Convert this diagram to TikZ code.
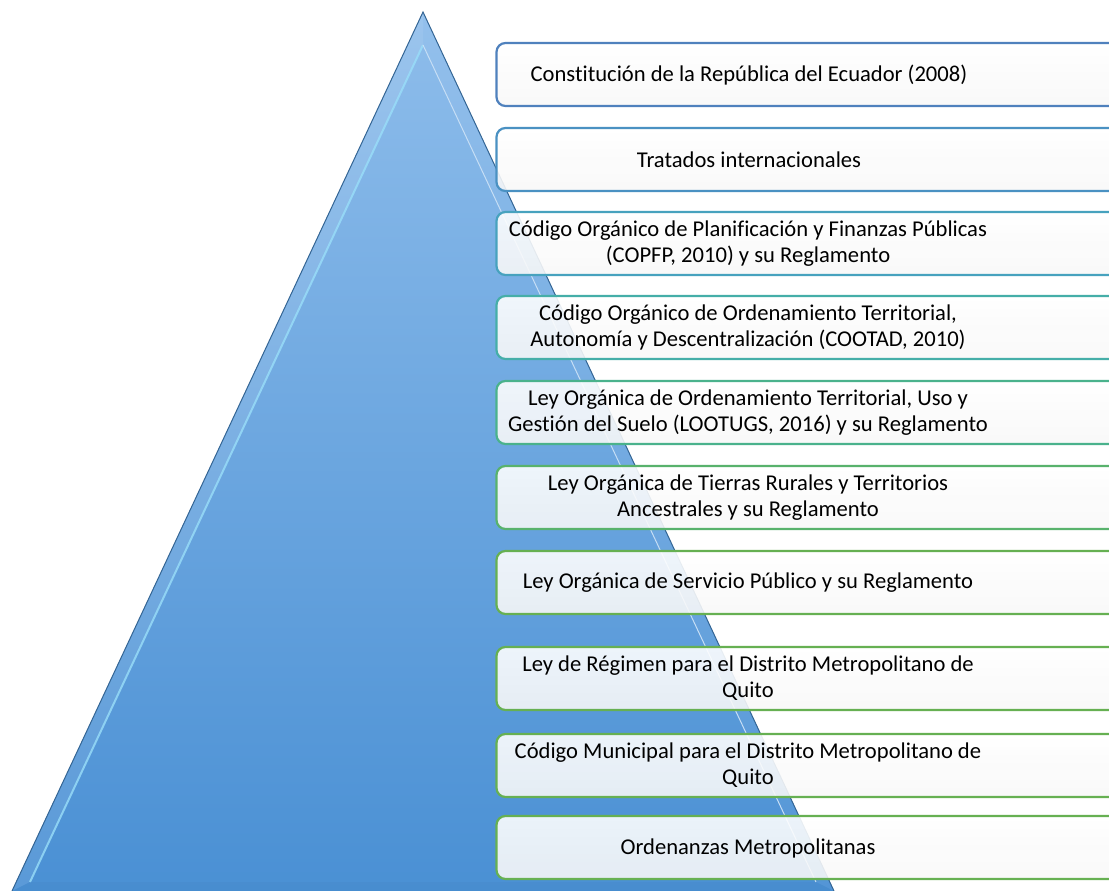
\documentclass[tikz,border=0pt]{standalone}
\usepackage{fontspec}
\setmainfont{Carlito}[Ligatures=NoCommon]
\begin{document}
\begin{tikzpicture}[x=1pt,y=-1pt,
  box/.style={draw=#1, line width=2.2pt, rounded corners=9pt,
    top color=white, bottom color=black!3, fill opacity=0.89,
    minimum width=626pt, minimum height=63pt, inner sep=0pt},
  lbl/.style={align=center, font=\fontsize{22.6}{26}\selectfont, text=black, inner sep=0pt}
]
\definecolor{c1}{HTML}{4F81BD}
\definecolor{c2}{HTML}{4A91C2}
\definecolor{c3}{HTML}{47A2BE}
\definecolor{c4}{HTML}{45AEA8}
\definecolor{c5}{HTML}{4AB28C}
\definecolor{c6}{HTML}{58B26C}
\definecolor{c7}{HTML}{66B052}
\definecolor{triTop}{HTML}{8EBDEB}
\definecolor{triBot}{HTML}{4A90D4}
\useasboundingbox (0,0) rectangle (1109,891);
\clip (0,0) rectangle (1109,891);
% triangle
\coordinate (A) at (423,12);
\coordinate (BL) at (12,891);
\coordinate (BR) at (834,891);
\coordinate (IA) at (423,45);
\coordinate (IL) at (30,882);
\coordinate (IR) at (816,882);
\shade[top color=triTop, bottom color=triBot] (A) -- (BL) -- (BR) -- cycle;
\shade[top color=triTop!80!white, bottom color=triBot!85!white, opacity=0.6] (A) -- (BL) -- (IL) -- (IA) -- cycle;
\shade[top color=triTop!90!white, bottom color=triBot!90!white, opacity=0.5] (A) -- (IA) -- (IR) -- (BR) -- cycle;
\fill[triBot!95!black, opacity=0.4] (IL) -- (IR) -- (BR) -- (BL) -- cycle;
\draw[line width=2pt, white!60!cyan, opacity=0.8] (IA) -- (IL);
\draw[line width=1pt, white!50!triTop] (IA) -- (IR);
\draw[line width=1pt, triBot!70!black] (BL) -- (A) -- (BR);
% boxes
\node[box=c1] (b1) at (809.5,74.5) {};
\node[box=c2] (b2) at (809.5,159.5) {};
\node[box=c3] (b3) at (809.5,243.5) {};
\node[box=c4] (b4) at (809.5,327.5) {};
\node[box=c5] (b5) at (809.5,412.5) {};
\node[box=c6] (b6) at (809.5,497.5) {};
\node[box=c7] (b7) at (809.5,582.5) {};
\node[box=c7] (b8) at (809.5,678.5) {};
\node[box=c7] (b9) at (809.5,765.5) {};
\node[box=c7] (b10) at (809.5,847.5) {};
% labels
\node[lbl] (t1) at (749,75) {Constitución de la República del Ecuador (2008)};
\node[lbl] (t2) at (749,160) {Tratados internacionales};
\node[lbl] (t3) at (748,243.5) {Código Orgánico de Planificación y Finanzas Públicas\\(COPFP, 2010) y su Reglamento};
\node[lbl] (t4) at (748,327.5) {Código Orgánico de Ordenamiento Territorial,\\Autonomía y Descentralización (COOTAD, 2010)};
\node[lbl] (t5) at (748,412.5) {Ley Orgánica de Ordenamiento Territorial, Uso y\\Gestión del Suelo (LOOTUGS, 2016) y su Reglamento};
\node[lbl] (t6) at (748,497.5) {Ley Orgánica de Tierras Rurales y Territorios\\Ancestrales y su Reglamento};
\node[lbl] (t7) at (748,583) {Ley Orgánica de Servicio Público y su Reglamento};
\node[lbl] (t8) at (748,678.5) {Ley de Régimen para el Distrito Metropolitano de\\Quito};
\node[lbl] (t9) at (748,765.5) {Código Municipal para el Distrito Metropolitano de\\Quito};
\node[lbl] (t10) at (748,848) {Ordenanzas Metropolitanas};
\end{tikzpicture}
\end{document}
